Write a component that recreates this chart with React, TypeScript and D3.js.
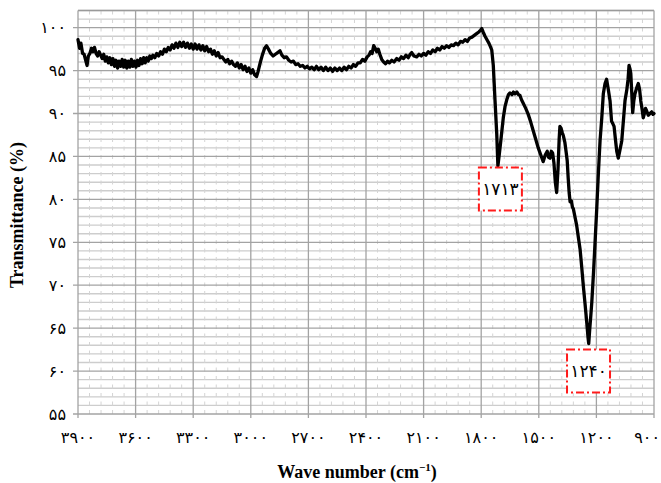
import React from 'react';
import * as d3 from 'd3';

const W = 661;
const H = 483;

// Wavenumber (cm-1), descending
const wavenumbers: number[] = [
  3900, 3892, 3885, 3876, 3868, 3860, 3853, 3846, 3838, 3830, 3822, 3814, 3806, 3798, 3790, 3782,
  3774, 3766, 3758, 3750, 3742, 3734, 3726, 3718, 3710, 3702, 3694, 3686, 3678, 3670, 3662, 3654,
  3646, 3638, 3630, 3622, 3614, 3606, 3598, 3590, 3582, 3574, 3566, 3558, 3550, 3542, 3534, 3526,
  3518, 3510, 3500, 3490, 3480, 3470, 3460, 3450, 3440, 3430, 3420, 3410, 3400, 3390, 3380, 3370,
  3360, 3350, 3340, 3330, 3320, 3310, 3300, 3290, 3280, 3270, 3260, 3250, 3240, 3230, 3220, 3210,
  3200, 3190, 3180, 3170, 3160, 3150, 3140, 3130, 3120, 3110, 3100, 3090, 3080, 3070, 3060, 3050,
  3040, 3030, 3020, 3010, 3000, 2990, 2980, 2970, 2962, 2950, 2940, 2928, 2918, 2908, 2896, 2884,
  2872, 2860, 2848, 2838, 2826, 2814, 2802, 2790, 2778, 2766, 2754, 2742, 2730, 2718, 2706, 2694,
  2682, 2670, 2658, 2646, 2634, 2622, 2610, 2598, 2586, 2574, 2562, 2550, 2538, 2526, 2514, 2502,
  2490, 2478, 2466, 2454, 2442, 2430, 2418, 2406, 2394, 2384, 2376, 2368, 2360, 2352, 2344, 2336,
  2328, 2318, 2308, 2298, 2288, 2278, 2266, 2254, 2240, 2228, 2216, 2204, 2192, 2180, 2170, 2162,
  2150, 2136, 2124, 2112, 2100, 2088, 2076, 2064, 2052, 2040, 2028, 2016, 2004, 1992, 1980, 1968,
  1956, 1944, 1932, 1920, 1908, 1896, 1884, 1872, 1860, 1848, 1836, 1824, 1812, 1804, 1797, 1790,
  1780, 1770, 1760, 1752, 1745, 1737, 1728, 1719, 1713, 1706, 1698, 1685, 1676, 1667, 1658, 1650,
  1640, 1632, 1624, 1614, 1606, 1598, 1590, 1581, 1568, 1555, 1542, 1529, 1516, 1503, 1490, 1477,
  1466, 1456, 1449, 1442, 1435, 1428, 1421, 1414, 1407, 1400, 1394, 1390, 1384, 1378, 1372, 1364,
  1357, 1352, 1347, 1342, 1337, 1330, 1325, 1320, 1312, 1303, 1294, 1285, 1276, 1268, 1259, 1250,
  1244, 1240, 1235, 1229, 1224, 1215, 1207, 1198, 1190, 1181, 1172, 1164, 1155, 1147, 1138, 1129,
  1121, 1114, 1108, 1101, 1094, 1086, 1077, 1068, 1060, 1051, 1042, 1035, 1030, 1025, 1021, 1016,
  1011, 1005, 999, 990, 982, 975, 969, 962, 956, 950, 944, 938, 930, 921, 912, 905, 900,
];

// Transmittance (%)
const transmittance: number[] = [
  98.6, 97.6, 98.2, 97.0, 96.9, 96.2, 95.6, 96.7, 97.0, 97.6, 97.2, 97.7, 97.0, 96.7, 97.2, 96.8,
  96.4, 96.9, 96.1, 96.6, 95.9, 96.5, 95.7, 96.4, 95.5, 96.2, 95.3, 96.1, 95.5, 96.3, 95.4, 96.2,
  95.3, 96.1, 95.4, 96.3, 95.5, 96.1, 95.4, 96.2, 95.6, 96.4, 95.8, 96.5, 95.9, 96.5, 96.1, 96.7,
  96.4, 96.8, 96.5, 97.0, 96.7, 97.2, 96.9, 97.5, 97.2, 97.7, 97.4, 98.0, 97.6, 98.2, 97.7, 98.3,
  97.8, 98.3, 97.7, 98.2, 97.6, 98.1, 97.5, 98.1, 97.5, 98.0, 97.4, 97.9, 97.3, 97.8, 97.2, 97.5,
  96.9, 97.3, 96.7, 97.1, 96.5, 96.6, 96.3, 96.0, 96.3, 95.8, 96.1, 95.7, 95.5, 95.9, 95.3, 95.7,
  95.1, 95.5, 94.9, 95.3, 94.7, 95.1, 94.5, 94.3, 94.9, 96.0, 96.8, 97.6, 97.9, 97.5, 97.0, 96.7,
  96.9, 97.1, 97.3, 96.8, 96.5, 96.6, 96.2, 96.0, 96.1, 95.7, 95.8, 95.5, 95.6, 95.3, 95.5, 95.2,
  95.4, 95.1, 95.5, 95.1, 95.4, 95.0, 95.4, 95.0, 95.3, 94.9, 95.3, 95.0, 95.3, 95.0, 95.4, 95.1,
  95.5, 95.3, 95.7, 95.5, 95.9, 95.9, 96.3, 96.1, 96.6, 96.8, 97.2, 97.0, 97.9, 97.6, 97.2, 97.5,
  96.9, 96.3, 96.0, 95.8, 96.1, 95.9, 96.2, 96.0, 96.4, 96.2, 96.6, 96.4, 96.8, 96.5, 96.9, 97.1,
  96.7, 96.6, 96.9, 96.7, 97.0, 96.8, 97.2, 97.0, 97.4, 97.2, 97.6, 97.4, 97.8, 97.6, 97.9, 97.7,
  98.0, 97.9, 98.2, 98.0, 98.4, 98.3, 98.6, 98.4, 98.8, 98.9, 99.1, 99.3, 99.5, 99.7, 99.9, 99.5,
  99.0, 98.6, 98.2, 97.8, 97.4, 95.6, 91.5, 87.6, 83.9, 85.2, 86.8, 89.5, 90.8, 91.6, 92.2, 92.4,
  92.2, 92.5, 92.3, 92.5, 92.2, 92.1, 91.6, 91.2, 90.6, 89.9, 89.0, 88.0, 87.0, 86.0, 85.2, 84.4,
  85.2, 85.6, 84.9, 84.8, 85.6, 85.4, 84.2, 82.0, 80.8, 83.5, 87.0, 88.5, 88.3, 87.8, 87.4, 86.6,
  85.4, 84.5, 82.5, 80.8, 79.7, 79.8, 79.1, 78.9, 78.0, 77.0, 75.6, 74.2, 72.0, 69.9, 67.8, 65.6,
  64.0, 63.2, 64.8, 66.5, 68.0, 71.5, 75.0, 79.0, 82.9, 86.8, 89.5, 92.3, 93.5, 94.0, 92.8, 91.5,
  89.1, 88.8, 88.5, 87.0, 85.6, 84.8, 85.8, 86.8, 89.0, 91.5, 92.7, 94.0, 95.6, 95.2, 94.7, 92.5,
  90.1, 91.5, 92.3, 93.0, 93.5, 92.8, 91.5, 90.5, 89.5, 90.0, 90.6, 90.3, 89.8, 90.0, 90.2, 89.9, 90.0,
];

const xTicks: number[] = [3900, 3600, 3300, 3000, 2700, 2400, 2100, 1800, 1500, 1200, 900];
const xTickLabels: string[] = ['۳۹۰۰', '۳۶۰۰', '۳۳۰۰', '۳۰۰۰', '۲۷۰۰', '۲۴۰۰', '۲۱۰۰', '۱۸۰۰', '۱۵۰۰', '۱۲۰۰', '۹۰۰'];
const yTicks: number[] = [55, 60, 65, 70, 75, 80, 85, 90, 95, 100];
const yTickLabels: string[] = ['۵۵', '۶۰', '۶۵', '۷۰', '۷۵', '۸۰', '۸۵', '۹۰', '۹۵', '۱۰۰'];

// Peak annotations (label centre in data units)
const annotLabels: string[] = ['۱۷۱۳', '۱۲۴۰'];
const annotWavenumbers: number[] = [1700, 1241];
const annotTransmittance: number[] = [81.2, 60.0];

export default function App() {
  const left = 78;
  const right = 654;
  const top = 10.5;
  const bottom = 414;

  const x = d3.scaleLinear().domain([3900, 900]).range([left, right]);
  const y = d3.scaleLinear().domain([55, 102]).range([bottom, top]);

  const pts: [number, number][] = wavenumbers.map((w, i) => [w, transmittance[i]]);
  const line = d3
    .line<[number, number]>()
    .x((d) => x(d[0]))
    .y((d) => y(d[1]));

  const minorY = d3.range(56, 103).filter((v) => v % 5 !== 0);
  const majorY = d3.range(55, 101, 5);
  const minorX = d3.range(900, 3900, 60).filter((v) => v % 300 !== 0);

  const labelFont = "'DejaVu Sans', 'Liberation Serif', serif";
  const titleFont = "'Liberation Serif', 'Times New Roman', serif";

  return (
    <svg
      width={W}
      height={H}
      style={{ position: 'absolute', left: 0, top: 0, background: '#fff' }}
    >
      {/* minor horizontal grid */}
      {minorY.map((v) => (
        <line key={'mh' + v} x1={left} x2={right} y1={y(v)} y2={y(v)} stroke="#cdcdcd" strokeWidth={1.4} />
      ))}
      {/* minor vertical dashed grid */}
      {minorX.map((v) => (
        <line
          key={'mv' + v}
          x1={x(v)}
          x2={x(v)}
          y1={top}
          y2={bottom}
          stroke="#d4d4d4"
          strokeWidth={1}
          strokeDasharray="4,4.5"
        />
      ))}
      {/* major horizontal grid */}
      {majorY.map((v) => (
        <line key={'Mh' + v} x1={left - 5} x2={right} y1={y(v)} y2={y(v)} stroke="#a3a3a3" strokeWidth={1.3} />
      ))}
      {/* top border */}
      <line x1={left} x2={right} y1={y(102)} y2={y(102)} stroke="#9a9a9a" strokeWidth={1.3} />
      {/* major vertical grid */}
      {xTicks.map((v) => (
        <line key={'Mv' + v} x1={x(v)} x2={x(v)} y1={top} y2={bottom + 4} stroke="#a3a3a3" strokeWidth={1.3} />
      ))}

      {/* spectrum */}
      <path d={line(pts) || ''} fill="none" stroke="#000" strokeWidth={3.3} strokeLinejoin="round" strokeLinecap="round" />

      {/* annotations */}
      {annotLabels.map((lab, i) => {
        const cx = x(annotWavenumbers[i]);
        const cy = y(annotTransmittance[i]);
        const bw = 43;
        const bh = 43;
        return (
          <g key={'a' + i}>
            <rect
              x={cx - bw / 2}
              y={cy - bh / 2}
              width={bw}
              height={bh}
              fill="#fff"
              stroke="#ff1a1a"
              strokeWidth={2}
              strokeDasharray="8,3,2,3"
            />
            <text x={cx} y={cy} textAnchor="middle" dominantBaseline="central" fontSize={17} fontFamily={labelFont} fill="#000">
              {lab}
            </text>
          </g>
        );
      })}

      {/* y tick labels */}
      {yTicks.map((v, i) => (
        <text key={'yl' + v} x={66} y={y(v)} textAnchor="end" dominantBaseline="central" fontSize={16} fontFamily={labelFont} fill="#000">
          {yTickLabels[i]}
        </text>
      ))}
      {/* x tick labels */}
      {xTicks.map((v, i) => {
        const last = i === xTicks.length - 1;
        return (
          <text
            key={'xl' + v}
            x={last ? W - 1 : x(v)}
            y={437}
            textAnchor={last ? 'end' : 'middle'}
            dominantBaseline="central"
            fontSize={16}
            fontFamily={labelFont}
            fill="#000"
          >
            {xTickLabels[i]}
          </text>
        );
      })}

      {/* axis titles */}
      <text x={357} y={478} textAnchor="middle" fontSize={18} fontWeight="bold" fontFamily={titleFont} fill="#000">
        Wave number (cm
        <tspan dy={-7} fontSize={11}>−1</tspan>
        <tspan dy={7}>)</tspan>
      </text>
      <text
        transform="translate(23,215) rotate(-90)"
        textAnchor="middle"
        fontSize={18}
        fontWeight="bold"
        fontFamily={titleFont}
        fill="#000"
      >
        Transmittance (%)
      </text>
    </svg>
  );
}
